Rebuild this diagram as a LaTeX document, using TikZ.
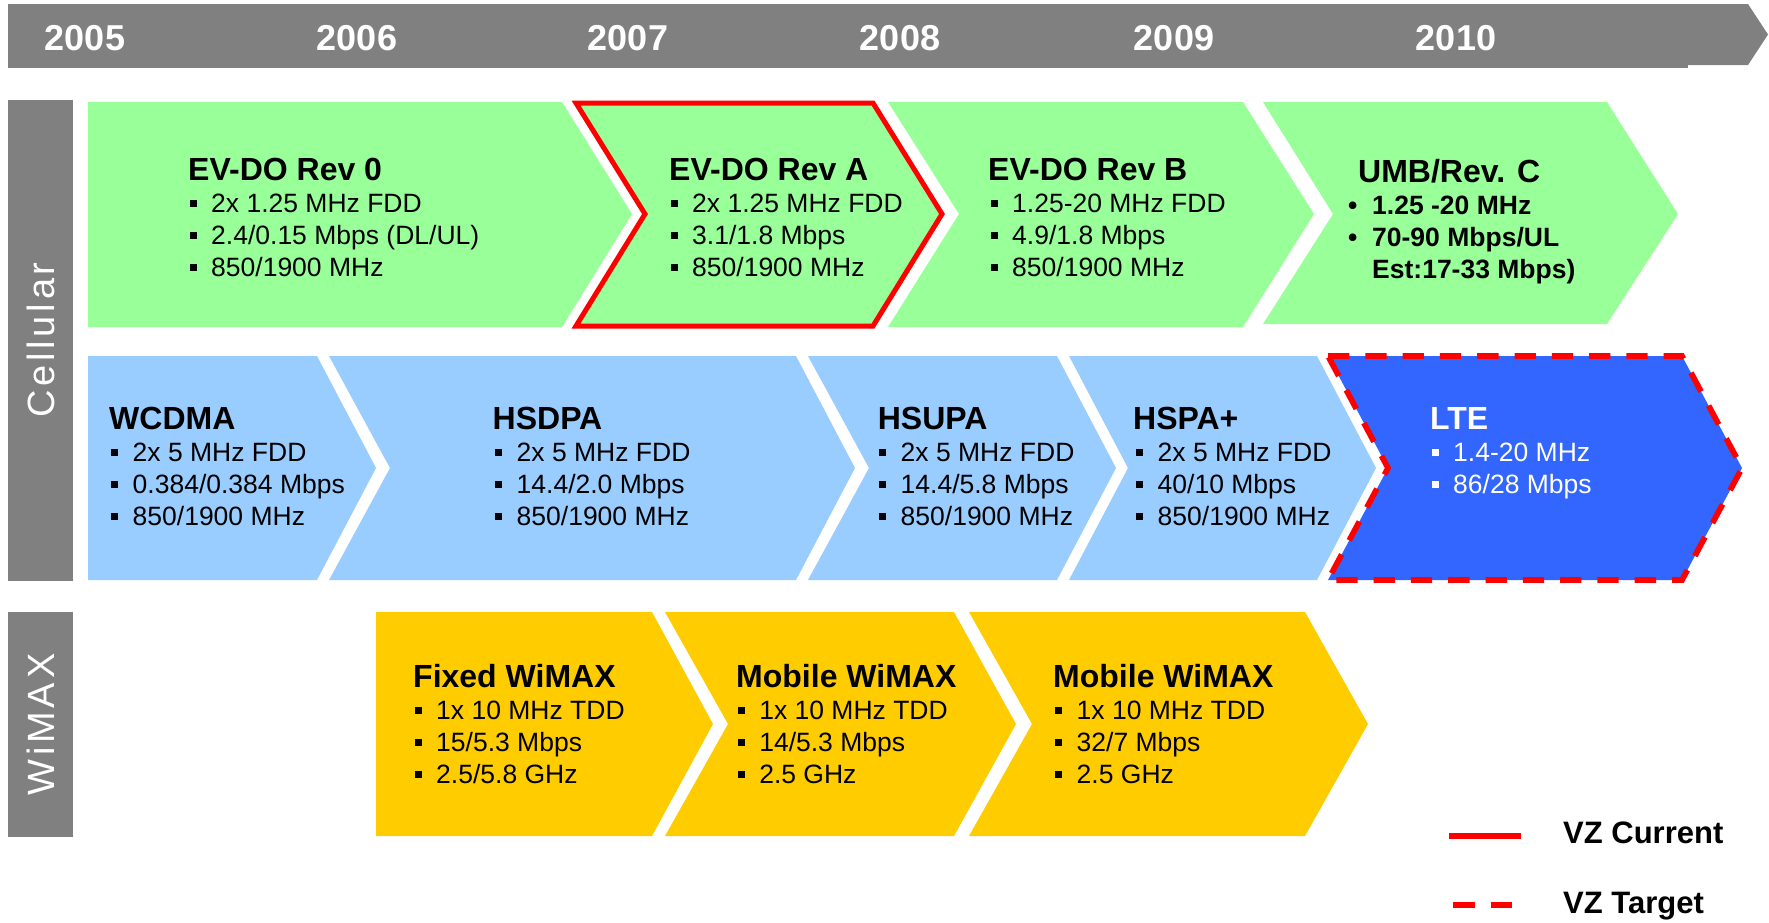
\documentclass[tikz,border=0pt]{standalone}
\usepackage{fontspec}
\setmainfont{Liberation Sans}
\newfontfamily\sidefont{Liberation Sans}[LetterSpace=10]
\definecolor{barg}{HTML}{808080}
\definecolor{evg}{HTML}{99FF99}
\definecolor{lbl}{HTML}{99CCFF}
\definecolor{lteb}{HTML}{3366FF}
\definecolor{wyel}{HTML}{FFCC00}
\definecolor{vzred}{HTML}{FF0000}
\newcommand\sqb{\makebox[21.5pt][l]{\rule[5pt]{7pt}{7.4pt}}}
\newcommand\rdb{\makebox[24pt][l]{\textbullet}}
\newcommand\txtblock[7]{%
  \node[ttl,#5] (#1) at (#2,#4) {#6};
  \foreach \myitem [count=\k] in {#7}{
    \node[itm,#5] (#1-\k) at (#3,#4+32*\k) {\sqb\myitem};
  }%
}
\begin{document}
\begin{tikzpicture}[x=1pt,y=-1pt,
  ttl/.style={font=\fontsize{32}{38}\selectfont\bfseries, inner sep=0pt, anchor=base west},
  itm/.style={font=\fontsize{26.5}{32}\selectfont, inner sep=0pt, anchor=base west},
  yr/.style={font=\fontsize{36}{42}\selectfont\bfseries, text=white, inner sep=0pt, anchor=base},
  side/.style={font=\fontsize{38}{44}\selectfont\sidefont, text=white, inner sep=0pt, anchor=base, rotate=90},
  leg/.style={font=\fontsize{31}{36}\selectfont\bfseries, inner sep=0pt, anchor=base west},
  cur/.style={draw=vzred, line width=5pt, line join=miter},
  tgt/.style={draw=vzred, line width=5.7pt, dash pattern=on 21.3pt off 16pt},
  wt/.style={text=white}]
\useasboundingbox (0,0) rectangle (1769,922);
\fill[white] (0,0) rectangle (1769,922);
% timeline bar
\fill[barg] (8,4) rectangle (1688,68);
\fill[barg] (1600,4) -- (1748,4) -- (1768,34.5) -- (1748,65) -- (1600,65) -- cycle;
\node[yr] (y2005) at (85,50) {2005};
\node[yr] (y2006) at (357,50) {2006};
\node[yr] (y2007) at (628,50) {2007};
\node[yr] (y2008) at (900,50) {2008};
\node[yr] (y2009) at (1174,50) {2009};
\node[yr] (y2010) at (1456,50) {2010};
% side labels
\fill[barg] (8,100) rectangle (73,581);
\fill[barg] (8,612) rectangle (73,837);
\node[side] (cell) at (54,340) {Cellular};
\node[side] (wimax) at (54,724.5) {WiMAX};
% row 1 green
\fill[evg] (88,102) -- (562,102) -- (632,214) -- (562,327) -- (88,327) -- cycle;
\fill[evg] (576,103) -- (873,103) -- (942,214) -- (873,326) -- (576,326) -- (645,214) -- cycle;
\draw[cur] (576,103) -- (873,103) -- (942,214) -- (873,326) -- (576,326) -- (645,214) -- cycle;
\fill[evg] (888,102) -- (1243,102) -- (1314,214) -- (1243,327) -- (888,327) -- (959,214) -- cycle;
\fill[evg] (1263,102) -- (1607,102) -- (1678,214) -- (1607,324) -- (1263,324) -- (1333,214) -- cycle;
% row 2 blue
\fill[lbl] (88,356) -- (317,356) -- (376,468) -- (317,580) -- (88,580) -- cycle;
\fill[lbl] (329,356) -- (796,356) -- (855,468) -- (796,580) -- (329,580) -- (390,468) -- cycle;
\fill[lbl] (808,356) -- (1057,356) -- (1116,468) -- (1057,580) -- (808,580) -- (869,468) -- cycle;
\fill[lbl] (1069,356) -- (1317,356) -- (1376,468) -- (1317,580) -- (1069,580) -- (1128,468) -- cycle;
\fill[lteb] (1328,356) -- (1682,356) -- (1742,468) -- (1682,580) -- (1328,580) -- (1388,468) -- cycle;
\draw[tgt] (1328,356) -- (1682,356) -- (1742,468) -- (1682,580) -- (1328,580) -- (1388,468) -- cycle;
% row 3 yellow
\fill[wyel] (376,612) -- (652,612) -- (713,724) -- (652,836) -- (376,836) -- cycle;
\fill[wyel] (665,612) -- (954,612) -- (1016,724) -- (954,836) -- (665,836) -- (728,724) -- cycle;
\fill[wyel] (969,612) -- (1305,612) -- (1368,724) -- (1305,836) -- (969,836) -- (1032,724) -- cycle;
% texts row 1
\txtblock{rev0}{188}{189.5}{180}{}{EV-DO Rev 0}{2x 1.25 MHz FDD,2.4/0.15 Mbps (DL/UL),850/1900 MHz}
\txtblock{revA}{669}{670.5}{180}{}{EV-DO Rev A}{2x 1.25 MHz FDD,3.1/1.8 Mbps,850/1900 MHz}
\txtblock{revB}{988}{990.5}{180}{}{EV-DO Rev B}{1.25-20 MHz FDD,4.9/1.8 Mbps,850/1900 MHz}
\node[ttl] (umb) at (1358,182) {UMB/Rev. C};
\node[itm,font=\fontsize{26.5}{32}\selectfont\bfseries] (umb-1) at (1348,214) {\rdb 1.25 -20 MHz};
\node[itm,font=\fontsize{26.5}{32}\selectfont\bfseries] (umb-2) at (1348,246) {\rdb 70-90 Mbps/UL};
\node[itm,font=\fontsize{26.5}{32}\selectfont\bfseries] (umb-3) at (1372,278) {Est:17-33 Mbps)};
% texts row 2
\txtblock{wcdma}{109}{111}{429}{}{WCDMA}{2x 5 MHz FDD,0.384/0.384 Mbps,850/1900 MHz}
\txtblock{hsdpa}{492.5}{495}{429}{}{HSDPA}{2x 5 MHz FDD,14.4/2.0 Mbps,850/1900 MHz}
\txtblock{hsupa}{877.6}{879}{429}{}{HSUPA}{2x 5 MHz FDD,14.4/5.8 Mbps,850/1900 MHz}
\txtblock{hspa}{1133}{1136}{429}{}{HSPA+}{2x 5 MHz FDD,40/10 Mbps,850/1900 MHz}
\txtblock{lte}{1430}{1431.5}{429}{wt}{LTE}{1.4-20 MHz,86/28 Mbps}
% texts row 3
\txtblock{fixed}{413}{414.5}{687}{}{Fixed WiMAX}{1x 10 MHz TDD,15/5.3 Mbps,2.5/5.8 GHz}
\txtblock{mob1}{736}{737.6}{687}{}{Mobile WiMAX}{1x 10 MHz TDD,14/5.3 Mbps,2.5 GHz}
\txtblock{mob2}{1053}{1055}{687}{}{Mobile WiMAX}{1x 10 MHz TDD,32/7 Mbps,2.5 GHz}
% legend
\coordinate (lc1) at (1449,836);
\coordinate (lc2) at (1521,836);
\coordinate (lt1) at (1452.6,905);
\coordinate (lt2) at (1512,905);
\draw[vzred, line width=6pt] (lc1) -- (lc2);
\draw[vzred, line width=6pt, dash pattern=on 22pt off 16pt] (lt1) -- (lt2);
\node[leg] (legc) at (1563,843) {VZ Current};
\node[leg] (legt) at (1563,913) {VZ Target};
\end{tikzpicture}
\end{document}
